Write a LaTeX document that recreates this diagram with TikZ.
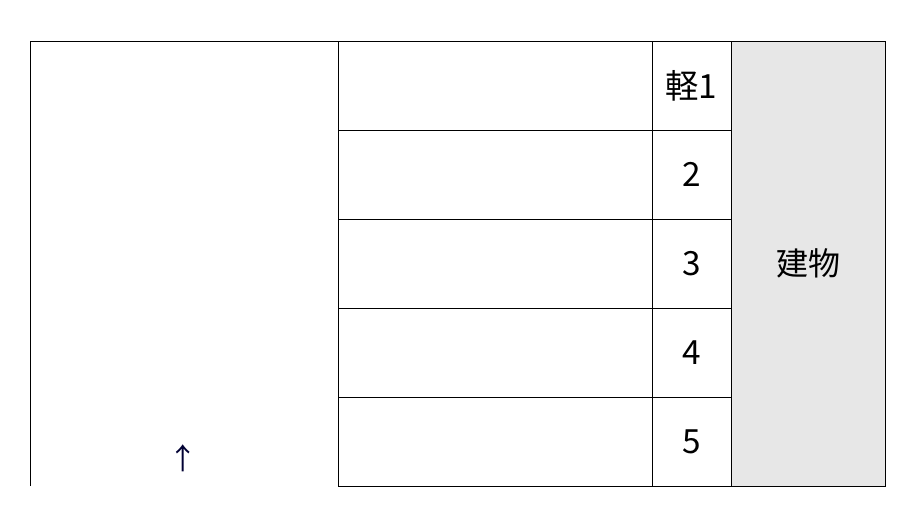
\documentclass[tikz,border=0pt]{standalone}
\usepackage{fontspec}
\setmainfont{Noto Sans CJK JP}
\begin{document}
\begin{tikzpicture}[x=0.75pt,y=-0.75pt,
  cell/.style={draw=black,line width=0.7pt,minimum width=#1*0.75pt,minimum height=89*0.75pt,inner sep=0pt,outer sep=0pt,anchor=north west,font=\fontsize{25}{29}\selectfont},
  gray/.style={fill=black!9.5},
  ln/.style={line width=0.7pt}]
\useasboundingbox (0,0) rectangle (907,517);
% left area outline
\coordinate (la) at (30,486);
\coordinate (lb) at (30,41);
\coordinate (lc) at (338,41);
\node[cell=314] (r1) at (338,41) {};
\node[cell=314] (r2) at (338,130) {};
\node[cell=314] (r3) at (338,219) {};
\node[cell=314] (r4) at (338,308) {};
\node[cell=314] (r5) at (338,397) {};
\node[cell=79] (n1) at (652,41) {軽1};
\node[cell=79] (n2) at (652,130) {2};
\node[cell=79] (n3) at (652,219) {3};
\node[cell=79] (n4) at (652,308) {4};
\node[cell=79] (n5) at (652,397) {5};
\node[draw=black,line width=0.7pt,gray,minimum width=154*0.75pt,minimum height=445*0.75pt,inner sep=0pt,outer sep=0pt,anchor=north west,font=\fontsize{24}{28}\selectfont] (bld) at (731,41) {建物};
\draw[ln] (la) -- (lb) -- (lc);
\node[text=black!80!blue,font=\fontsize{22}{26}\selectfont] (arr) at (183,458) {↑};
\end{tikzpicture}
\end{document}
